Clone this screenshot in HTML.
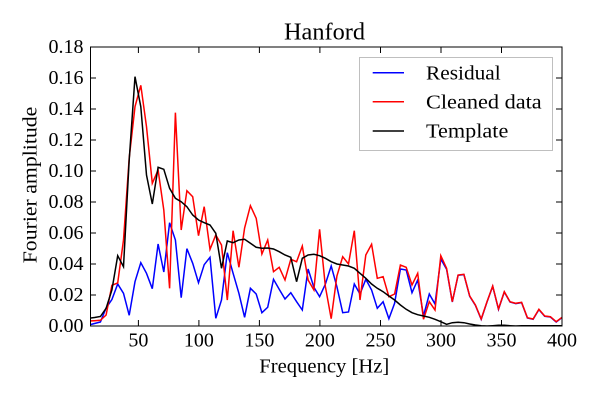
<!DOCTYPE html>
<html><head><meta charset="utf-8"><style>
html,body{margin:0;padding:0;background:#fff;}
svg{display:block;}
text{font-family:"Liberation Serif",serif;fill:#000;}
</style></head><body>
<svg width="600" height="400" viewBox="0 0 600 400" xmlns="http://www.w3.org/2000/svg">
<rect x="0" y="0" width="600" height="400" fill="#fff"/>
<defs><clipPath id="c"><rect x="90" y="47" width="472" height="279"/></clipPath></defs>
<g clip-path="url(#c)" fill="none" stroke-width="1.5" stroke-linejoin="miter">
<polyline stroke="#0000ff" points="88.8,325 94.6,323.5 100.4,322 106.1,308 111.9,299.5 117.7,284 123.5,293.3 129.2,315.3 135,281.7 140.8,262.7 146.5,273.3 152.3,288.7 158.1,244 163.8,272 169.6,222.7 175.4,240 181.2,297.7 186.9,248.7 192.7,263.3 198.5,282.7 204.2,264.7 210,257.3 215.8,318.3 221.5,300 227.3,252.7 233.1,273.3 238.9,293.3 244.6,317.3 250.4,288.3 256.2,294 261.9,312.7 267.7,307.3 273.5,279.3 279.2,289.3 285,299 290.8,292.7 296.6,301.7 302.3,310 308.1,269 313.9,287.3 319.6,296.7 325.4,284 331.2,266 336.9,286.7 342.7,312.7 348.5,312 354.3,284 360,294 365.8,279.3 371.6,290 377.3,308.3 383.1,301.7 388.9,318.7 394.6,303.3 400.4,269 406.2,270 412,292.7 417.7,280 423.5,316 429.3,294 435,304 440.8,259 446.6,269.3 452.3,302 458.1,275.3 463.9,274.6 469.7,296.3 475.4,305.3 481.2,319.3 487,302 492.7,286.3 498.5,309.3 504.3,292 510,302 515.8,303.6 521.6,302.6 527.4,318 533.1,319.3 538.9,309.6 544.7,316.3 550.4,317 556.2,322 562,317.6"/>
<polyline stroke="#ff0000" points="88.8,321 94.6,320.7 100.4,320.3 106.1,315 111.9,285.3 117.7,283 123.5,240 129.2,158 135,106.7 140.8,85.3 146.5,126.7 152.3,183.3 158.1,170 163.8,210 169.6,288.3 175.4,112.7 181.2,230 186.9,190.7 192.7,196.7 198.5,235.7 204.2,206.7 210,249.3 215.8,235 221.5,245 227.3,300 233.1,230.7 238.9,267.3 244.6,228 250.4,205.7 256.2,218.3 261.9,254 267.7,240 273.5,271.7 279.2,267.3 285,280 290.8,259.3 296.6,261.7 302.3,246 308.1,280 313.9,290 319.6,229.3 325.4,286.7 331.2,318.7 336.9,276 342.7,256.7 348.5,264 354.3,230.7 360,300 365.8,255 371.6,244.3 377.3,278.3 383.1,276.7 388.9,296.7 394.6,294 400.4,265 406.2,267.3 412,285 417.7,273.3 423.5,319.3 429.3,301.7 435,310 440.8,255.7 446.6,268.3 452.3,301.7 458.1,275 463.9,274.3 469.7,296 475.4,305 481.2,319 487,301.7 492.7,286 498.5,309 504.3,291.7 510,301.7 515.8,303.3 521.6,302.3 527.4,317.7 533.1,319 538.9,309.3 544.7,316 550.4,316.7 556.2,321.7 562,317.3"/>
<polyline stroke="#000000" points="88.8,318.3 94.6,317.5 100.4,316.5 106.1,308.3 111.9,290 117.7,255.7 123.5,266.7 129.2,160 135,76.7 140.8,106.7 146.5,175 152.3,204 158.1,167.3 163.8,169.3 169.6,188.3 175.4,198.3 181.2,201.7 186.9,206.7 192.7,215 198.5,220 204.2,222.7 210,225 215.8,233.3 221.5,268.3 227.3,241 233.1,242.7 238.9,240 244.6,239.3 250.4,243.3 256.2,247.3 261.9,248.3 267.7,248 273.5,249 279.2,251.7 285,255 290.8,257.3 296.6,281.7 302.3,258.3 308.1,255 313.9,254.3 319.6,255.7 325.4,258.3 331.2,261.7 336.9,264 342.7,265 348.5,266 354.3,268.3 360,273.3 365.8,278.3 371.6,284 377.3,288.3 383.1,291.7 388.9,296 394.6,300 400.4,305 406.2,309.3 412,312.7 417.7,314.7 423.5,316 429.3,317.3 435,319.3 440.8,321.7 446.6,324.3 452.3,322.7 458.1,322.3 463.9,322.7 469.7,324 475.4,325 481.2,325.7 487,326 492.7,325.7 498.5,325.3 504.3,325.3 510,325.7 515.8,326 521.6,325.7 527.4,325.7 533.1,325.7 538.9,325.8 544.7,325.8 550.4,325.8 556.2,325.8 562,325.8"/>
</g>
<!-- frame -->
<rect x="90.5" y="47" width="471.5" height="279" fill="none" stroke="#000" stroke-width="1"/>
<!-- ticks -->
<g stroke="#000" stroke-width="1">
<path d="M138.4,326V320M198.9,326V320M259.4,326V320M319.9,326V320M380.5,326V320M441,326V320M501.5,326V320"/>
<path d="M138.4,47V53M198.9,47V53M259.4,47V53M319.9,47V53M380.5,47V53M441,47V53M501.5,47V53"/>
<path d="M90,295H96M90,264H96M90,233H96M90,202H96M90,171H96M90,140H96M90,109H96M90,78H96"/>
<path d="M562,295H556M562,264H556M562,233H556M562,202H556M562,171H556M562,140H556M562,109H556M562,78H556"/>
</g>
<!-- y tick labels -->
<g font-size="20">
<text x="48.5" y="332" textLength="35" lengthAdjust="spacingAndGlyphs">0.00</text>
<text x="48.5" y="301" textLength="35" lengthAdjust="spacingAndGlyphs">0.02</text>
<text x="48.5" y="270" textLength="35" lengthAdjust="spacingAndGlyphs">0.04</text>
<text x="48.5" y="239" textLength="35" lengthAdjust="spacingAndGlyphs">0.06</text>
<text x="48.5" y="208" textLength="35" lengthAdjust="spacingAndGlyphs">0.08</text>
<text x="48.5" y="177" textLength="35" lengthAdjust="spacingAndGlyphs">0.10</text>
<text x="48.5" y="146" textLength="35" lengthAdjust="spacingAndGlyphs">0.12</text>
<text x="48.5" y="115" textLength="35" lengthAdjust="spacingAndGlyphs">0.14</text>
<text x="48.5" y="84" textLength="35" lengthAdjust="spacingAndGlyphs">0.16</text>
<text x="48.5" y="53" textLength="35" lengthAdjust="spacingAndGlyphs">0.18</text>
</g>
<!-- x tick labels -->
<g font-size="20">
<text x="128.4" y="346.7" textLength="20" lengthAdjust="spacingAndGlyphs">50</text>
<text x="183.9" y="346.7" textLength="30" lengthAdjust="spacingAndGlyphs">100</text>
<text x="244.4" y="346.7" textLength="30" lengthAdjust="spacingAndGlyphs">150</text>
<text x="304.9" y="346.7" textLength="30" lengthAdjust="spacingAndGlyphs">200</text>
<text x="365.5" y="346.7" textLength="30" lengthAdjust="spacingAndGlyphs">250</text>
<text x="426" y="346.7" textLength="30" lengthAdjust="spacingAndGlyphs">300</text>
<text x="486.5" y="346.7" textLength="30" lengthAdjust="spacingAndGlyphs">350</text>
<text x="547" y="346.7" textLength="30" lengthAdjust="spacingAndGlyphs">400</text>
</g>
<!-- title & labels -->
<text x="284" y="39.3" font-size="24" textLength="81" lengthAdjust="spacingAndGlyphs">Hanford</text>
<text x="259.3" y="372.7" font-size="20" textLength="130" lengthAdjust="spacingAndGlyphs">Frequency [Hz]</text>
<text transform="translate(36.7,263.3) rotate(-90)" x="0" y="0" font-size="20" textLength="156.6" lengthAdjust="spacingAndGlyphs">Fourier amplitude</text>
<!-- legend -->
<rect x="359.5" y="57.5" width="193" height="93" fill="#fff" stroke="#bfbfbf" stroke-width="1"/>
<g stroke-width="1.5">
<line x1="372.7" y1="72.7" x2="404" y2="72.7" stroke="#0000ff"/>
<line x1="372.7" y1="101.7" x2="404" y2="101.7" stroke="#ff0000"/>
<line x1="372.7" y1="131" x2="404" y2="131" stroke="#000"/>
</g>
<g font-size="20">
<text x="426" y="79.3" textLength="74.7" lengthAdjust="spacingAndGlyphs">Residual</text>
<text x="426" y="108.3" textLength="115.7" lengthAdjust="spacingAndGlyphs">Cleaned data</text>
<text x="426" y="137.5" textLength="82.3" lengthAdjust="spacingAndGlyphs">Template</text>
</g>
</svg>
</body></html>
